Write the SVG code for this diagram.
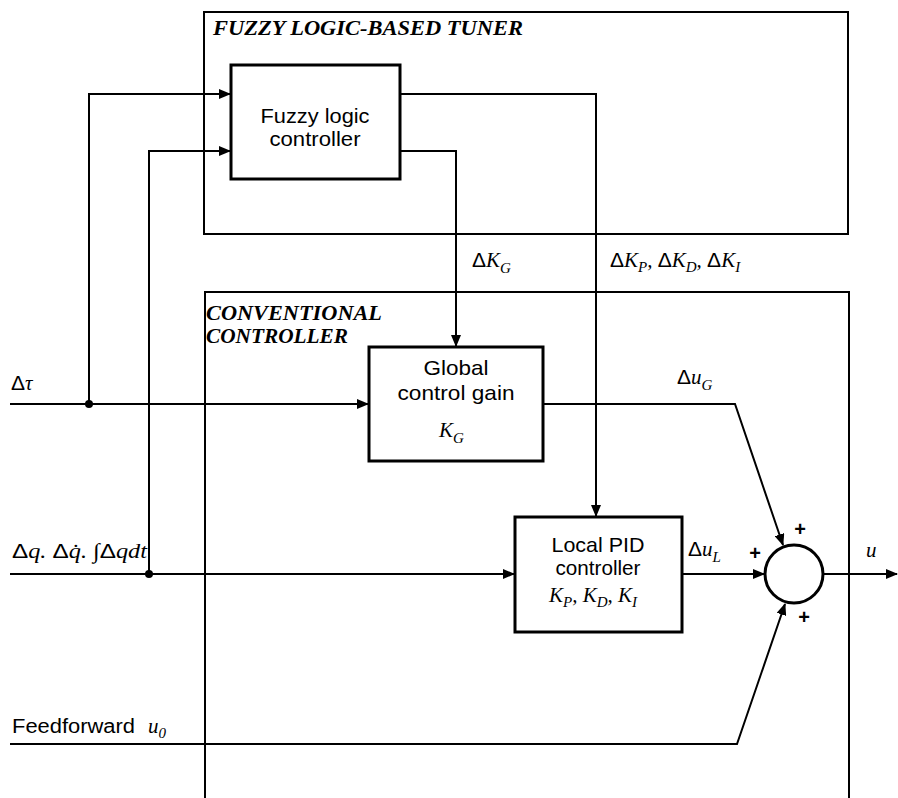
<svg xmlns="http://www.w3.org/2000/svg" width="898" height="798" viewBox="0 0 898 798">
<style>
.frame{fill:none;stroke:#000;stroke-width:2}
.blk{fill:#fff;stroke:#000;stroke-width:3}
.ln{fill:none;stroke:#000;stroke-width:2}
.ttl{font-family:"Liberation Serif",serif;font-weight:bold;font-style:italic;font-size:20px}
.lbl{font-family:"Liberation Sans",sans-serif;font-size:21px;text-anchor:middle}
.m{font-family:"Liberation Serif",serif;font-style:italic;font-size:21px}
.up{font-style:normal;font-family:"Liberation Sans",sans-serif}
.sub{font-size:15px}
.pl{font-family:"Liberation Sans",sans-serif;font-size:20px;font-weight:bold;text-anchor:middle}
.ff{font-family:"Liberation Sans",sans-serif;font-size:20px}
</style>
<defs>
<marker id="ah" markerWidth="12" markerHeight="10" refX="11" refY="5" orient="auto" markerUnits="userSpaceOnUse">
<path d="M0,0 L12,5 L0,10 Z" fill="#000"/>
</marker>
</defs>
<g id="fuzzy-tuner">
<rect class="frame" x="204" y="12" width="644" height="222"/>
<text class="ttl" x="213" y="35" textLength="310" lengthAdjust="spacingAndGlyphs">FUZZY LOGIC-BASED TUNER</text>
</g>
<g id="conventional-controller">
<path class="frame" d="M205,800 V292 H849 V800"/>
<text class="ttl" x="206" y="320" textLength="176" lengthAdjust="spacingAndGlyphs">CONVENTIONAL</text>
<text class="ttl" x="206" y="343" textLength="142" lengthAdjust="spacingAndGlyphs">CONTROLLER</text>
</g>
<g id="connectors">
<path class="ln" d="M10,404 H368" marker-end="url(#ah)"/>
<path class="ln" d="M89,404 V94 H230" marker-end="url(#ah)"/>
<path class="ln" d="M10,574 H514" marker-end="url(#ah)"/>
<path class="ln" d="M149,574 V151 H230" marker-end="url(#ah)"/>
<path class="ln" d="M400,94 H596 V516" marker-end="url(#ah)"/>
<path class="ln" d="M400,151 H456 V346" marker-end="url(#ah)"/>
<path class="ln" d="M543,404 H735 L783,545" marker-end="url(#ah)"/>
<path class="ln" d="M682,574 H764" marker-end="url(#ah)"/>
<path class="ln" d="M10,744 H737 L785,604" marker-end="url(#ah)"/>
<path class="ln" d="M823,574 H897" marker-end="url(#ah)"/>
<circle cx="89" cy="404" r="4" fill="#000"/>
<circle cx="149" cy="574" r="4" fill="#000"/>
</g>
<g id="fuzzy-logic-controller">
<rect class="blk" x="231" y="65" width="169" height="114"/>
<text class="lbl" x="315" y="123" textLength="109" lengthAdjust="spacingAndGlyphs">Fuzzy logic</text>
<text class="lbl" x="315" y="146" textLength="91" lengthAdjust="spacingAndGlyphs">controller</text>
</g>
<g id="global-control-gain">
<rect class="blk" x="369" y="347" width="174" height="114"/>
<text class="lbl" x="456" y="375" textLength="65" lengthAdjust="spacingAndGlyphs">Global</text>
<text class="lbl" x="456" y="400" textLength="117" lengthAdjust="spacingAndGlyphs">control gain</text>
<text class="m" x="439" y="437">K<tspan class="sub" dy="6">G</tspan></text>
</g>
<g id="local-pid-controller">
<rect class="blk" x="515" y="517" width="167" height="115"/>
<text class="lbl" x="598" y="552" textLength="93" lengthAdjust="spacingAndGlyphs">Local PID</text>
<text class="lbl" x="598" y="575" textLength="85" lengthAdjust="spacingAndGlyphs">controller</text>
<text class="m" x="549" y="602">K<tspan class="sub" dy="5">P</tspan><tspan dy="-5">, K</tspan><tspan class="sub" dy="5">D</tspan><tspan dy="-5">, K</tspan><tspan class="sub" dy="5">I</tspan></text>
</g>
<g id="summing-junction">
<circle cx="794" cy="574" r="29" fill="#fff" stroke="#000" stroke-width="3"/>
<text class="pl" x="800" y="536">+</text>
<text class="pl" x="755" y="560">+</text>
<text class="pl" x="804" y="624">+</text>
</g>
<g id="labels">
<text class="m" x="472" y="267"><tspan class="up">Δ</tspan>K<tspan class="sub" dy="6">G</tspan></text>
<text class="m" x="610" y="267"><tspan class="up">Δ</tspan>K<tspan class="sub" dy="5">P</tspan><tspan dy="-5">, </tspan><tspan class="up">Δ</tspan>K<tspan class="sub" dy="5">D</tspan><tspan dy="-5">, </tspan><tspan class="up">Δ</tspan>K<tspan class="sub" dy="5">I</tspan></text>
<text class="m" x="11" y="390"><tspan class="up">Δ</tspan>τ</text>
<text class="m" x="12" y="558" textLength="135" lengthAdjust="spacingAndGlyphs"><tspan class="up">Δ</tspan>q. <tspan class="up">Δ</tspan>q̇. ∫<tspan class="up">Δ</tspan>qdt</text>
<text class="ff" x="12" y="733" textLength="123" lengthAdjust="spacingAndGlyphs">Feedforward</text>
<text class="m" x="148" y="733">u<tspan class="sub" dy="5">0</tspan></text>
<text class="m" x="677" y="384"><tspan class="up">Δ</tspan>u<tspan class="sub" dy="6">G</tspan></text>
<text class="m" x="688" y="556"><tspan class="up">Δ</tspan>u<tspan class="sub" dy="6">L</tspan></text>
<text class="m" x="866" y="557">u</text>
</g>
</svg>
